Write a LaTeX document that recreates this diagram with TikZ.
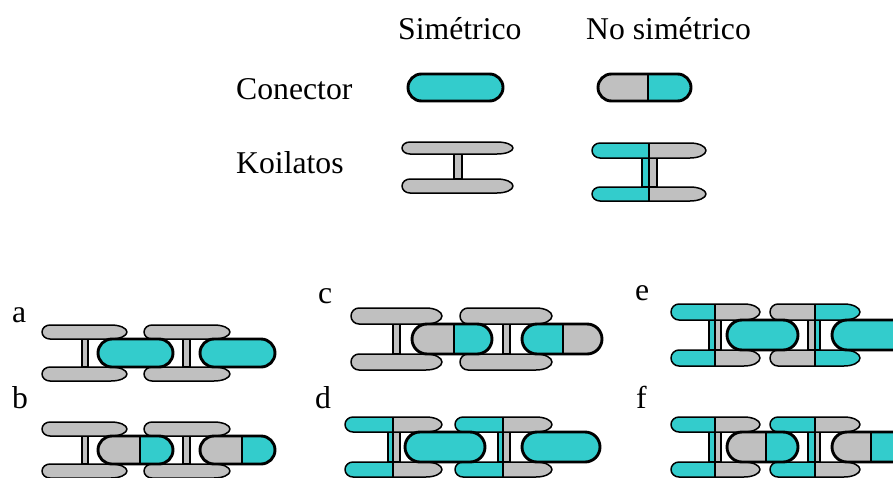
\documentclass[tikz,border=0pt]{standalone}
\usepackage{fontspec}
\setmainfont{Liberation Serif}
\definecolor{cy}{RGB}{51,204,204}
\definecolor{gr}{RGB}{192,192,192}
\tikzset{
  conline/.style={line width=2.9pt, line join=round},
  barline/.style={line width=1.5pt, line join=round},
  postline/.style={line width=1.2pt},
  lbl/.style={inner sep=0pt, anchor=base west, font=\fontsize{31.7}{38}\selectfont},
}
\newcommand\shp[6]{(#1+#5,#2) -- (#3-#6,#2) arc[start angle=-90,end angle=90,x radius=#6,y radius={(#4-#2)/2}] -- (#1+#5,#4) arc[start angle=90,end angle=270,x radius=#5,y radius={(#4-#2)/2}] -- cycle}
\newcommand\piece[9]{%
  \begin{scope}
    \clip \shp{#1}{#2}{#3}{#4}{#5}{#6};
    \fill[#8] (#1-2,#2-2) rectangle (#7,#4+2);
    \fill[#9] (#7,#2-2) rectangle (#3+2,#4+2);
  \end{scope}}
\newcommand\kbar[7]{%
  \piece{#1}{#2}{#3}{#4}{8}{16}{#5}{#6}{#7}%
  \def\tmpa{#6}\def\tmpb{#7}%
  \ifx\tmpa\tmpb\else\draw[barline] (#5,#2) -- (#5,#4);\fi
  \draw[barline] \shp{#1}{#2}{#3}{#4}{8}{16};}
\newcommand\kcon[7]{%
  \pgfmathsetmacro\rr{(#4-#2)/2}%
  \piece{#1}{#2}{#3}{#4}{\rr}{\rr}{#5}{#6}{#7}%
  \def\tmpa{#6}\def\tmpb{#7}%
  \ifx\tmpa\tmpb\else\draw[barline] (#5,#2) -- (#5,#4);\fi
  \draw[conline] \shp{#1}{#2}{#3}{#4}{\rr}{\rr};}
\newcommand\kpost[7]{%
  \fill[#6] (#1,#2) rectangle (#5,#4);
  \fill[#7] (#5,#2) rectangle (#3,#4);
  \def\tmpa{#6}\def\tmpb{#7}%
  \ifx\tmpa\tmpb\else\draw[postline] (#5,#2) -- (#5,#4);\fi
  \draw[postline] (#1,#2) rectangle (#3,#4);}
\begin{document}
\begin{tikzpicture}[x=1pt,y=-1pt]
\useasboundingbox (0,0) rectangle (893,477);
\clip (0,0) rectangle (893,477);
% labels
\node[lbl] (tsim) at (398,39) {Simétrico};
\node[lbl] (tnsim) at (586,39) {No simétrico};
\node[lbl] (tcon) at (236,99) {Conector};
\node[lbl] (tkoi) at (236,173) {Koilatos};
\node[lbl] (la) at (12,322) {a};
\node[lbl] (lb) at (12,408) {b};
\node[lbl] (lc) at (318,303) {c};
\node[lbl] (ld) at (315,408) {d};
\node[lbl] (le) at (635,300) {e};
\node[lbl] (lf) at (636,408) {f};
% legend
\kcon{408}{74}{503}{101}{503}{cy}{cy}
\kcon{598}{74}{691}{101}{648}{gr}{cy}
\kpost{454}{154}{462}{179}{462}{gr}{gr}
\kbar{402}{142}{513}{154}{513}{gr}{gr}
\kbar{402}{179}{513}{193}{513}{gr}{gr}
\kpost{642}{158}{657}{187}{649}{cy}{gr}
\kbar{592}{143}{706}{158}{649}{cy}{gr}
\kbar{592}{187}{706}{201}{649}{cy}{gr}
% row a
\kpost{82}{339}{88}{367}{88}{gr}{gr}
\kpost{183}{339}{190}{367}{190}{gr}{gr}
\kbar{42}{325}{127}{339}{127}{gr}{gr}
\kbar{144}{325}{230}{339}{230}{gr}{gr}
\kbar{42}{367}{127}{381}{127}{gr}{gr}
\kbar{144}{367}{230}{381}{230}{gr}{gr}
\kcon{98}{339}{173}{367}{173}{cy}{cy}
\kcon{200}{339}{275}{367}{275}{cy}{cy}
% row b
\kpost{82}{436}{88}{464}{88}{gr}{gr}
\kpost{183}{436}{190}{464}{190}{gr}{gr}
\kbar{42}{422}{127}{436}{127}{gr}{gr}
\kbar{144}{422}{230}{436}{230}{gr}{gr}
\kbar{42}{464}{127}{478}{127}{gr}{gr}
\kbar{144}{464}{230}{478}{230}{gr}{gr}
\kcon{98}{436}{173}{464}{140}{gr}{cy}
\kcon{200}{436}{275}{464}{242}{gr}{cy}
% row c
\kpost{393}{324}{400}{354}{400}{gr}{gr}
\kpost{503}{324}{510}{354}{510}{gr}{gr}
\kbar{351}{308}{442}{324}{442}{gr}{gr}
\kbar{460}{308}{552}{324}{552}{gr}{gr}
\kbar{351}{354}{442}{370}{442}{gr}{gr}
\kbar{460}{354}{552}{370}{552}{gr}{gr}
\kcon{412}{324}{492}{354}{454}{gr}{cy}
\kcon{522}{324}{602}{354}{563}{cy}{gr}
% row d
\kpost{388}{432}{400}{462}{393}{cy}{gr}
\kpost{498}{432}{510}{462}{503}{cy}{gr}
\kbar{345}{417}{442}{432}{393}{cy}{gr}
\kbar{455}{417}{552}{432}{503}{cy}{gr}
\kbar{345}{462}{442}{477}{393}{cy}{gr}
\kbar{455}{462}{552}{477}{503}{cy}{gr}
\kcon{405}{432}{485}{462}{485}{cy}{cy}
\kcon{522}{432}{600}{462}{600}{cy}{cy}
% row e
\kpost{709}{320}{721}{350}{715}{cy}{gr}
\kpost{808}{320}{820}{350}{815}{gr}{cy}
\kbar{671}{304}{760}{320}{715}{cy}{gr}
\kbar{770}{304}{860}{320}{815}{gr}{cy}
\kbar{671}{350}{760}{366}{715}{cy}{gr}
\kbar{770}{350}{860}{366}{815}{gr}{cy}
\kcon{727}{320}{798}{350}{798}{cy}{cy}
\kcon{832}{320}{912}{350}{912}{cy}{cy}
% row f
\kpost{709}{432}{721}{462}{715}{cy}{gr}
\kpost{808}{432}{820}{462}{815}{cy}{gr}
\kbar{671}{417}{760}{432}{715}{cy}{gr}
\kbar{770}{417}{860}{432}{815}{cy}{gr}
\kbar{671}{462}{760}{477}{715}{cy}{gr}
\kbar{770}{462}{860}{477}{815}{cy}{gr}
\kcon{727}{432}{798}{462}{766}{gr}{cy}
\kcon{832}{432}{912}{462}{871}{gr}{cy}
\end{tikzpicture}
\end{document}
